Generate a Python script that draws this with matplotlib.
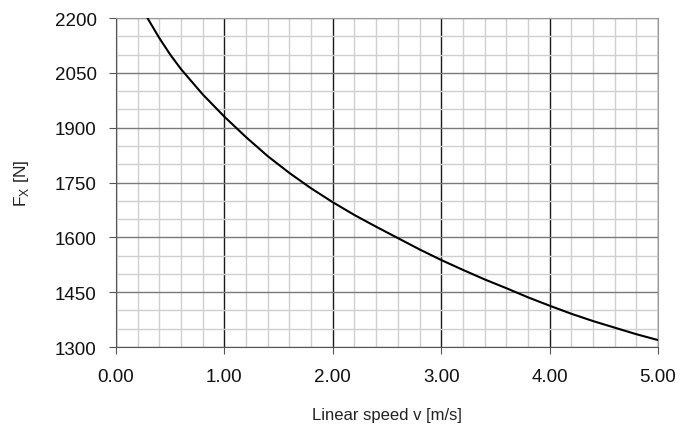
import matplotlib.pyplot as plt
from matplotlib.ticker import MultipleLocator, FormatStrFormatter

plt.rcParams['font.family'] = ['Liberation Sans', 'DejaVu Sans']

# values
speed = [0.29, 0.4, 0.5, 0.6, 0.8, 1.0, 1.2, 1.4, 1.6, 1.8, 2.0, 2.2, 2.4, 2.6,
         2.8, 3.0, 3.2, 3.4, 3.6, 3.8, 4.0, 4.2, 4.4, 4.6, 4.8, 5.0]
force = [2200, 2145, 2100, 2060, 1991, 1930, 1874, 1822, 1776, 1734, 1696, 1661, 1629, 1598,
         1567, 1538, 1511, 1485, 1461, 1436, 1413, 1391, 1371, 1353, 1335, 1319]

x_ticks = [0, 1, 2, 3, 4, 5]
y_ticks = [1300, 1450, 1600, 1750, 1900, 2050, 2200]

fig = plt.figure(figsize=(6.88, 4.27), dpi=100)
ax = fig.add_axes([0.1686, 0.185, 0.9564 - 0.1686, 0.9555 - 0.185])

# grid: light minor cells, gray horizontal majors, dark vertical majors
ax.xaxis.set_minor_locator(MultipleLocator(0.2))
ax.yaxis.set_minor_locator(MultipleLocator(50))
ax.grid(which='minor', color='#cfcfcf', linewidth=1.0)
ax.grid(which='major', axis='y', color='#7a7a7a', linewidth=1.0)
ax.grid(which='major', axis='x', color='#1a1a1a', linewidth=1.0)
ax.set_axisbelow(True)

ax.plot(speed, force, color='black', linewidth=1.5, zorder=3)

ax.set_xlim(0, 5)
ax.set_ylim(1300, 2200)
ax.set_xticks(x_ticks)
ax.set_yticks(y_ticks)
ax.xaxis.set_major_formatter(FormatStrFormatter('%.2f'))

for s in ['top', 'right']:
    ax.spines[s].set_color('#9a9a9a')
for s in ['left', 'bottom']:
    ax.spines[s].set_color('#555555')

ax.tick_params(which='minor', length=0)
ax.tick_params(which='major', direction='out', length=5, color='#555555',
               labelsize=13.5, labelcolor='#111111')
ax.tick_params(axis='x', pad=10)
ax.tick_params(axis='y', pad=9)

ax.set_xlabel('Linear speed v [m/s]', fontsize=12, labelpad=16, color='#222222')
ax.set_ylabel(r'F$_\mathregular{X}$ [N]', fontsize=12.5, labelpad=17, color='#222222')

fig.savefig('out.png', dpi=100)
